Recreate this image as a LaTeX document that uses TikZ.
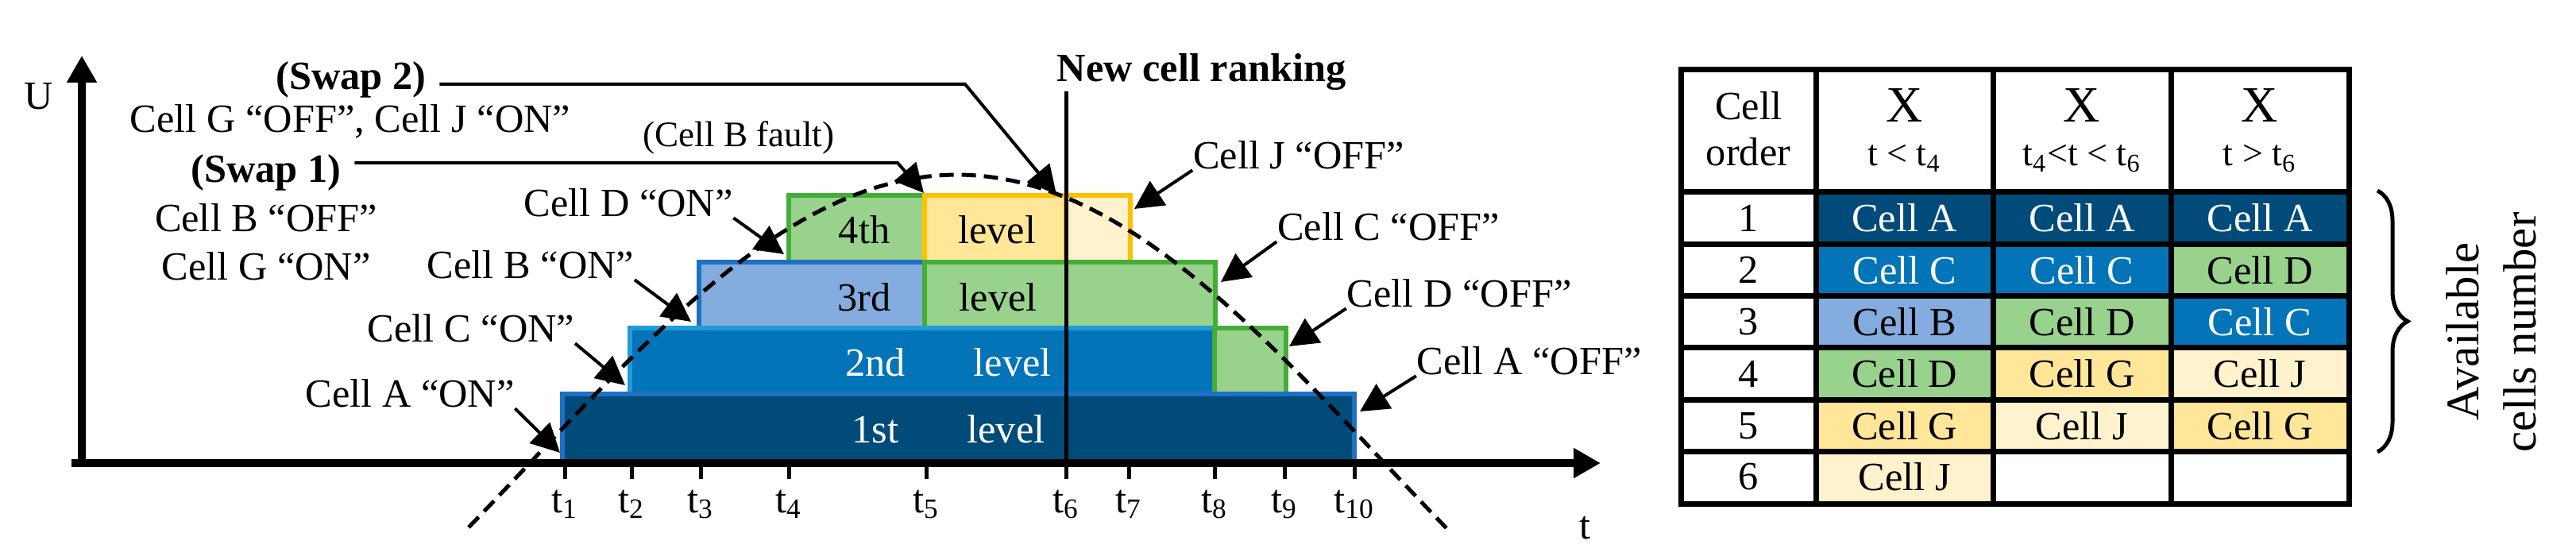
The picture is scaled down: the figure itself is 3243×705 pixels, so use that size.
\documentclass[tikz,border=0pt]{standalone}
\usepackage{fontspec}
\setmainfont{Liberation Serif}
\usetikzlibrary{arrows.meta,decorations.pathreplacing}
\definecolor{navy}{RGB}{0,75,122}
\definecolor{navyedge}{RGB}{30,112,195}
\definecolor{midblue}{RGB}{3,116,184}
\definecolor{midblueedge}{RGB}{33,155,215}
\definecolor{paleblue}{RGB}{132,172,222}
\definecolor{leaf}{RGB}{152,210,140}
\definecolor{leafedge}{RGB}{67,173,56}
\definecolor{gold}{RGB}{255,230,153}
\definecolor{goldedge}{RGB}{255,192,0}
\definecolor{cream}{RGB}{255,242,204}
\tikzset{
    level-box/.style = {line width=1.5pt},
    level-text/.style = {anchor=base, inner sep=0pt},
    on-off/.style = {anchor=base, inner sep=0pt},
    swap-title/.style = {anchor=base, font=\fontsize{12.6pt}{15pt}\selectfont\bfseries, inner xsep=4pt, inner ysep=0pt},
    pointer/.style = {line width=1pt, -{Triangle[length=9pt, width=9pt]}},
    axis/.style = {line width=2.5pt, -{Triangle[length=8.5pt, width=9pt]}},
    tick-mark/.style = {line width=1.25pt},
    hump/.style = {line width=1.25pt, dash pattern=on 4.5pt off 2.5pt},
    tab-cell/.style = {minimum width=55.9pt, minimum height=16.3pt, inner sep=0pt},
    tab-num/.style = {inner sep=0pt},
    tab-grid/.style = {line width=1.75pt},
    cell-A/.style = {fill=navy, text=white},
    cell-C/.style = {fill=midblue, text=white},
    cell-B/.style = {fill=paleblue},
    cell-D/.style = {fill=leaf},
    cell-G/.style = {fill=gold},
    cell-J/.style = {fill=cream},
}

\begin{document}
\begin{tikzpicture}[x=0.25pt, y=-0.25pt, font=\fontsize{12.6pt}{15pt}\selectfont]
\useasboundingbox (0,0) rectangle (3243,705);

% levels, top one first
\draw[level-box, fill=leaf, draw=leafedge] (993,246) rectangle (1164,330);
\draw[level-box, fill=gold, draw=goldedge] (1164,246) rectangle (1342,330);
\draw[level-box, fill=cream, draw=goldedge] (1342,246) rectangle (1423,330);
\draw[level-box, fill=paleblue, draw=navyedge] (880,330) rectangle (1164,413);
\draw[level-box, fill=leaf, draw=leafedge] (1164,330) rectangle (1530,413);
\draw[level-box, fill=midblue, draw=midblueedge] (793,413) rectangle (1529,496);
\draw[level-box, fill=leaf, draw=leafedge] (1529,413) rectangle (1619,496);
\draw[level-box, fill=navy, draw=navyedge] (708,496) rectangle (1705,581);
\node[level-text, text=white] (lv-1) at (1194,557) {1st\hspace{21.5pt}level};
\node[level-text, text=white] (lv-2) at (1194,474) {2nd\hspace{21.5pt}level};
\node[level-text] (lv-3) at (1180,392) {3rd\hspace{21.5pt}level};
\node[level-text] (lv-4) at (1180,307) {4th\hspace{21.5pt}level};

\draw[hump] plot[domain=590:1822, samples=80] (\x, {583-363*cos((\x-1205)/538*90)});

% axes
\draw[axis] (90,583) -- (2015,583);
\draw[axis] (103,588) -- (103,70);
\node[anchor=base] (u-label) at (49,138) {U};
\node[anchor=base] (t-label) at (1995,678) {t};
\foreach \tx [count=\i] in {711,795,882,993,1166,1342,1421,1529,1617,1705} {
    \coordinate (tick-\i) at (\tx,583);
    \draw[tick-mark] (tick-\i) -- ++(0,20);
    \node[anchor=base] (t-\i) at (\tx,645) {t\textsubscript{\i}};
}
\node[swap-title, anchor=base west, inner sep=0pt] (ranking) at (1330,103) {New cell ranking};
\draw[line width=1.25pt] (ranking.south -| tick-6) -- (tick-6);

% swaps
\node[swap-title] (swap-2) at (442,113) {(Swap 2)};
\node[on-off] (swap-2-note) at (441,167) {Cell G “OFF”, Cell J “ON”};
\node[swap-title] (swap-1) at (335,230) {(Swap 1)};
\node[on-off] (swap-1-off) at (335,292) {Cell B “OFF”};
\node[on-off] (swap-1-on) at (335,353) {Cell G “ON”};
\node[on-off, font=\fontsize{11.3pt}{14pt}\selectfont] (fault) at (930,185) {(Cell B fault)};
\coordinate (swap-1-bend) at (1130,205);
\coordinate (swap-1-tip) at (1163,243);
\coordinate (swap-2-bend) at (1215,106);
\coordinate (swap-2-tip) at (1330,245);
\draw[pointer] (swap-1.east |- swap-1-bend) -- (swap-1-bend) -- (swap-1-tip);
\draw[pointer] (swap-2.east |- swap-2-bend) -- (swap-2-bend) -- (swap-2-tip);

% cells switched on
\node[on-off] (a-on) at (516,513) {Cell A “ON”};
\node[on-off] (c-on) at (593,431) {Cell C “ON”};
\node[on-off] (b-on) at (668,351) {Cell B “ON”};
\node[on-off] (d-on) at (791,273) {Cell D “ON”};
\coordinate (a-on-tip) at (705,570);
\coordinate (c-on-tip) at (787,485);
\coordinate (b-on-tip) at (870,405);
\coordinate (d-on-tip) at (987,320);
\draw[pointer] (a-on.south east) -- (a-on-tip);
\draw[pointer] (c-on.south east) -- (c-on-tip);
\draw[pointer] (b-on.south east) -- (b-on-tip);
\draw[pointer] (d-on.south east) -- (d-on-tip);

% cells switched off
\node[on-off] (j-off) at (1635,213) {Cell J “OFF”};
\node[on-off] (c-off) at (1748,303) {Cell C “OFF”};
\node[on-off] (d-off) at (1837,387) {Cell D “OFF”};
\node[on-off] (a-off) at (1925,472) {Cell A “OFF”};
\coordinate (j-off-tip) at (1428,263);
\coordinate (c-off-tip) at (1537,355);
\coordinate (d-off-tip) at (1623,436);
\coordinate (a-off-tip) at (1712,518);
\draw[pointer] (j-off.south west) -- (j-off-tip);
\draw[pointer] (c-off.south west) -- (c-off-tip);
\draw[pointer] (d-off.south west) -- (d-off-tip);
\draw[pointer] (a-off.south west) -- (a-off-tip);

% ranking table
\foreach \r/\ca/\cb/\cc in {1/A/A/A, 2/C/C/D, 3/B/D/C, 4/D/G/J, 5/G/J/G} {
    \pgfmathsetmacro{\ry}{242+65.3*(\r-0.5)}
    \node[tab-num] (n-\r) at (2201,\ry) {\r};
    \node[tab-cell, cell-\ca] (c-\r-1) at (2397.5,\ry) {Cell \ca};
    \node[tab-cell, cell-\cb] (c-\r-2) at (2621,\ry) {Cell \cb};
    \node[tab-cell, cell-\cc] (c-\r-3) at (2845,\ry) {Cell \cc};
}
\node[tab-num] (n-6) at (2201,600.5) {6};
\node[tab-cell, cell-J] (c-6-1) at (2397.5,600.5) {Cell J};
\node[align=center, font=\fontsize{12.6pt}{14.5pt}\selectfont] (h-order) at (2201,162) {Cell\\order};
\foreach \hx/\cond [count=\i] in {2397.5/{t < t\textsubscript{4}}, 2621/{t\textsubscript{4}<t < t\textsubscript{6}}, 2845/{t > t\textsubscript{6}}} {
    \node[anchor=base, font=\fontsize{16pt}{18pt}\selectfont] (h-x-\i) at (\hx,154) {X};
    \node[anchor=base, font=\fontsize{11.5pt}{14pt}\selectfont] (h-t-\i) at (\hx,209) {\cond};
}
\draw[tab-grid] (2116,87.5) rectangle (2957,634);
\foreach \gx in {2286,2509,2733} \draw[tab-grid] (\gx,87.5) -- (\gx,634);
\foreach \gy in {242,307.3,372.6,437.9,503.2,568.5} \draw[tab-grid] (2116,\gy) -- (2957,\gy);

\draw[line width=1.25pt, decorate, decoration={brace, amplitude=9.5pt}] (2993,240) -- (2993,569);
\node[rotate=90, anchor=base, font=\fontsize{14.7pt}{17pt}\selectfont] (avail-1) at (3120,417.5) {Available};
\node[rotate=90, anchor=base, font=\fontsize{14.7pt}{17pt}\selectfont] (avail-2) at (3192,418.5) {cells number};
\end{tikzpicture}
\end{document}
